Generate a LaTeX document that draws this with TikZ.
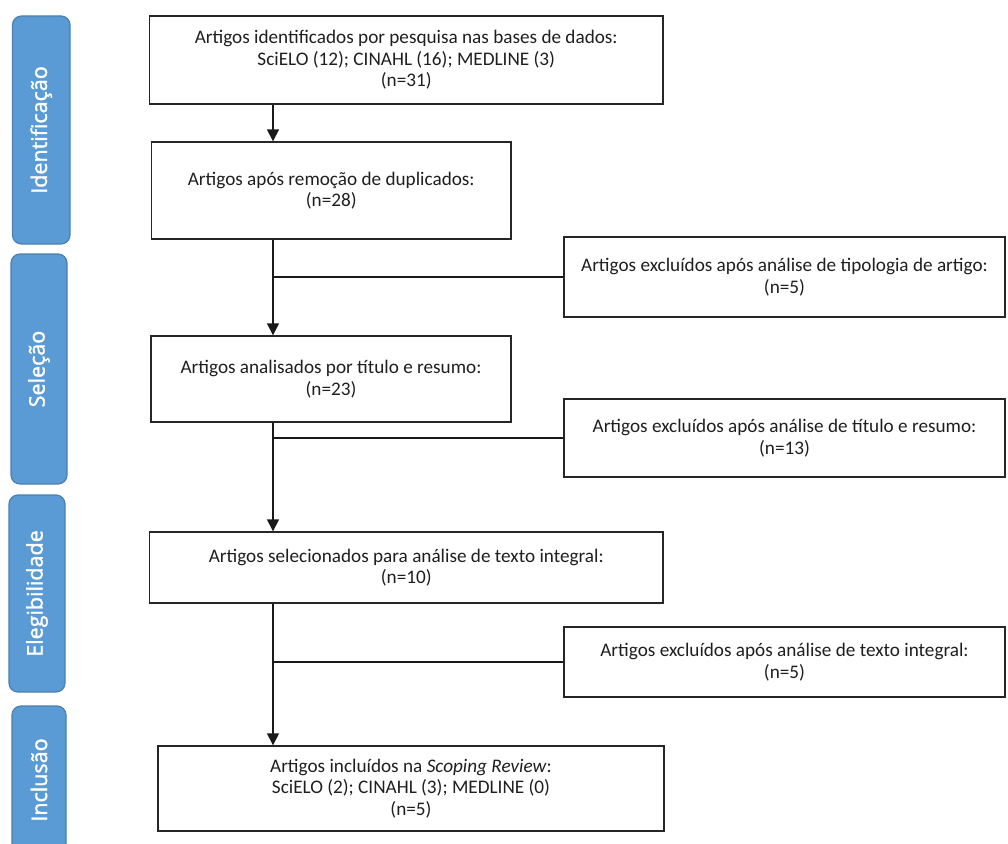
\documentclass[tikz,border=0pt]{standalone}
\usepackage{fontspec}
\setmainfont{Carlito}
\newfontfamily\sidefont[FakeBold=1.5]{Open Sans}
\usetikzlibrary{arrows.meta}
\definecolor{sideblue}{HTML}{5B9BD5}
\definecolor{sideedge}{HTML}{4A7FB0}
\definecolor{txt}{HTML}{1F1F1F}
\begin{document}
\begin{tikzpicture}[x=1pt,y=-1pt,
  box/.style={draw=black!85, line width=1.4pt, fill=white, align=center, inner sep=0pt,
    text=txt, font=\fontsize{19.2}{21.5}\selectfont},
  side/.style={draw=sideedge, line width=1.2pt, fill=sideblue, rounded corners=9pt, inner sep=0pt},
  sidelabel/.style={rotate=90, text=white, font=\sidefont\fontsize{21.5}{25}\selectfont, inner sep=0pt},
  conn/.style={draw=black!90, line width=1.4pt},
  arr/.style={conn, -{Triangle[width=12pt,length=12pt]}}]
\useasboundingbox (0,0) rectangle (1008,843);
\fill[white] (0,0) rectangle (1008,843);

% side bars
\node[side, minimum width=57.5pt, minimum height=228pt] (s1) at (41.25,130) {};
\node[sidelabel] (l1) at (s1.center) {Identificação};
\node[side, minimum width=56pt, minimum height=230pt] (s2) at (39,369) {};
\node[sidelabel] (l2) at (s2.center) {Seleção};
\node[side, minimum width=56pt, minimum height=197pt] (s3) at (37,593.5) {};
\node[sidelabel] (l3) at (s3.center) {Elegibilidade};
\begin{scope}
\clip (0,0) rectangle (1008,843);
\node[side, minimum width=54pt, minimum height=164pt] (s4) at (39,788) {};
\end{scope}
\node[sidelabel] (l4) at (39,780) {Inclusão};

% main boxes
\node[box, minimum width=513.5pt, minimum height=88pt] (b1) at (406.25,60)
  {Artigos identificados por pesquisa nas bases de dados:\\SciELO (12); CINAHL (16); MEDLINE (3)\\(n=31)};
\node[box, minimum width=359.5pt, minimum height=97pt] (b2) at (331.25,190.5)
  {Artigos após remoção de duplicados:\\(n=28)};
\node[box, minimum width=360pt, minimum height=86pt] (b3) at (331,379)
  {Artigos analisados por título e resumo:\\(n=23)};
\node[box, minimum width=513.5pt, minimum height=71pt] (b4) at (406.25,567.5)
  {Artigos selecionados para análise de texto integral:\\(n=10)};
\node[box, minimum width=506pt, minimum height=85pt] (b5) at (411,788.5)
  {Artigos incluídos na \textit{Scoping Review}:\\SciELO (2); CINAHL (3); MEDLINE (0)\\(n=5)};

% exclusion boxes
\node[box, minimum width=441pt, minimum height=80pt] (e1) at (784.5,277)
  {Artigos excluídos após análise de tipologia de artigo:\\(n=5)};
\node[box, minimum width=441pt, minimum height=78pt] (e2) at (784.5,438)
  {Artigos excluídos após análise de título e resumo:\\(n=13)};
\node[box, minimum width=441pt, minimum height=70pt] (e3) at (784.5,662)
  {Artigos excluídos após análise de texto integral:\\(n=5)};

% spine
\coordinate (sp) at (273,0);
\draw[arr] (b1.south -| sp) -- (b2.north -| sp);
\draw[arr] (b2.south -| sp) -- (b3.north -| sp);
\draw[arr] (b3.south -| sp) -- (b4.north -| sp);
\draw[arr] (b4.south -| sp) -- (b5.north -| sp);
\draw[conn] (e1.west -| sp) -- (e1.west);
\draw[conn] (e2.west -| sp) -- (e2.west);
\draw[conn] (e3.west -| sp) -- (e3.west);
\end{tikzpicture}
\end{document}
